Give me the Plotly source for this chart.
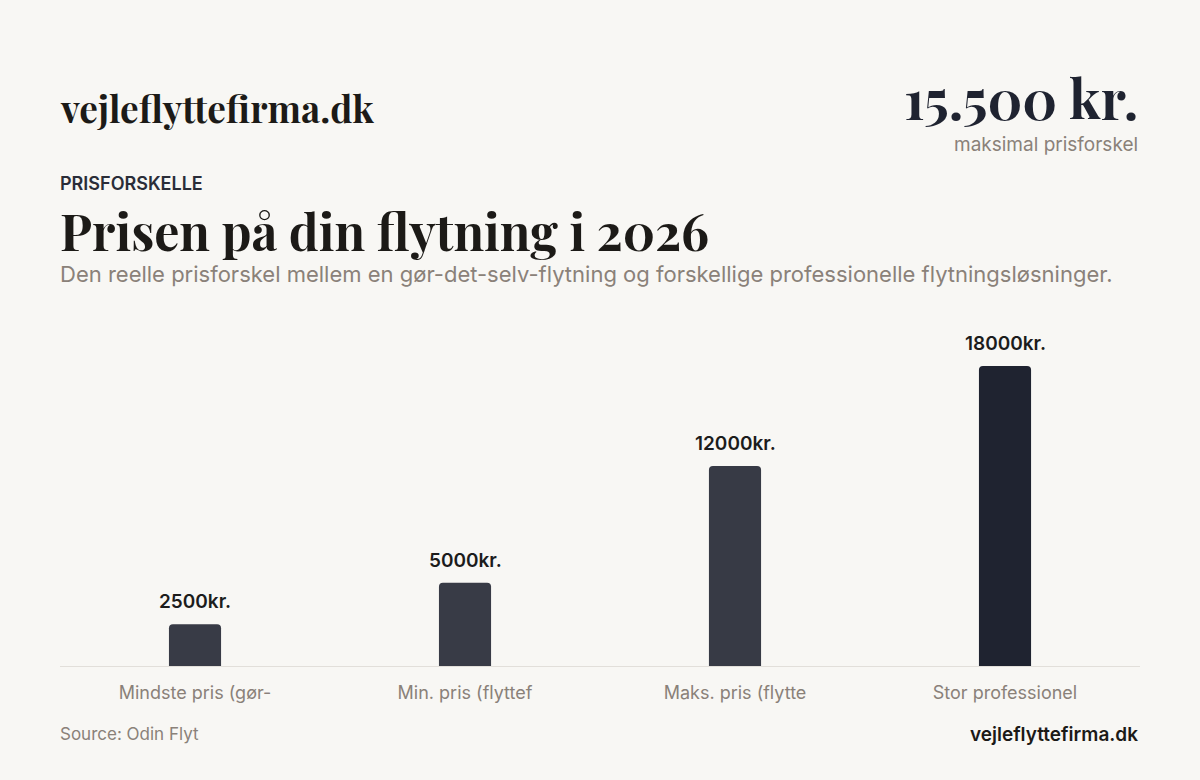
import plotly.graph_objects as go

categories = ["Mindste pris (gør-", "Min. pris (flyttef", "Maks. pris (flytte", "Stor professionel"]
values = [2500, 5000, 12000, 18000]
bar_colors = ["#383b46", "#383b46", "#373a45", "#1f2330"]

W, H = 1200, 780
L, R, T, B = 60, 60, 325, 114
plot_h = H - T - B


def py(y_px):
    return (H - B - y_px) / plot_h


def px(x_px):
    return (x_px - L) / (W - L - R)


SERIF = "Playfair Display, Liberation Serif, DejaVu Serif, serif"
SANS = "Inter, Roboto, Noto Sans, sans-serif"
GREY = "#8a8179"
DARK = "#1f2330"

fig = go.Figure(
    go.Bar(
        x=categories,
        y=values,
        marker=dict(color=bar_colors, cornerradius=4, line=dict(width=0)),
        width=0.193,
        hoverinfo="skip",
    )
)

ann = []
for c, v in zip(categories, values):
    ann.append(dict(text=f"{v}kr.", x=c, y=v, xref="x", yref="y", xanchor="center", yanchor="bottom",
                    yshift=9, showarrow=False,
                    font=dict(family=SANS, size=19, color="#1c1c1c", weight=600)))

hdr = []
hdr.append(dict(text="vejleflyttefirma.dk", x=px(58), y=py(108), xanchor="left", yanchor="middle",
                font=dict(family=SERIF, size=37, color="#1c1a17", weight=700)))
hdr.append(dict(text="15.500 kr.", x=px(1140), y=py(98), xanchor="right", yanchor="middle",
                font=dict(family=SERIF, size=54, color=DARK, weight=700)))
hdr.append(dict(text="maksimal prisforskel", x=px(1140), y=py(144), xanchor="right", yanchor="middle",
                font=dict(family=SANS, size=19, color=GREY)))
hdr.append(dict(text="PRISFORSKELLE", x=px(58), y=py(184), xanchor="left", yanchor="middle",
                font=dict(family=SANS, size=18, color="#2a2d38", weight=600)))
hdr.append(dict(text="Prisen på din flytning i 2026", x=px(58), y=py(230), xanchor="left", yanchor="middle",
                font=dict(family=SERIF, size=50, color="#1c1a17", weight=700)))
hdr.append(dict(text="Den reelle prisforskel mellem en gør-det-selv-flytning og forskellige professionelle flytningsløsninger.",
                x=px(58), y=py(274), xanchor="left", yanchor="middle",
                font=dict(family=SANS, size=22, color=GREY)))
hdr.append(dict(text="Source: Odin Flyt", x=px(58), y=py(734), xanchor="left", yanchor="middle",
                font=dict(family=SANS, size=17, color=GREY)))
hdr.append(dict(text="vejleflyttefirma.dk", x=px(1140), y=py(734), xanchor="right", yanchor="middle",
                font=dict(family=SANS, size=19, color="#1c1a17", weight=600)))
for a in hdr:
    a.update(xref="paper", yref="paper", showarrow=False)
ann.extend(hdr)

fig.update_layout(
    width=W, height=H,
    margin=dict(l=L, r=R, t=T, b=B, pad=0),
    paper_bgcolor="#f8f7f4",
    plot_bgcolor="#f8f7f4",
    showlegend=False,
    annotations=ann,
)
fig.update_xaxes(
    showgrid=False, zeroline=False, showline=True, linecolor="#e2dfda", linewidth=1,
    ticks="", tickfont=dict(family=SANS, size=18, color=GREY), ticklabelstandoff=10,
)
fig.update_yaxes(
    range=[0, 18000 * plot_h / 300], showgrid=False, zeroline=False, showticklabels=False,
    showline=False, fixedrange=True,
)

fig.write_html(
    "out.html",
    config={"displayModeBar": False},
    post_script="document.body.style.margin='0';document.body.style.overflow='hidden';"
                "document.body.style.background='#f8f7f4';",
)
